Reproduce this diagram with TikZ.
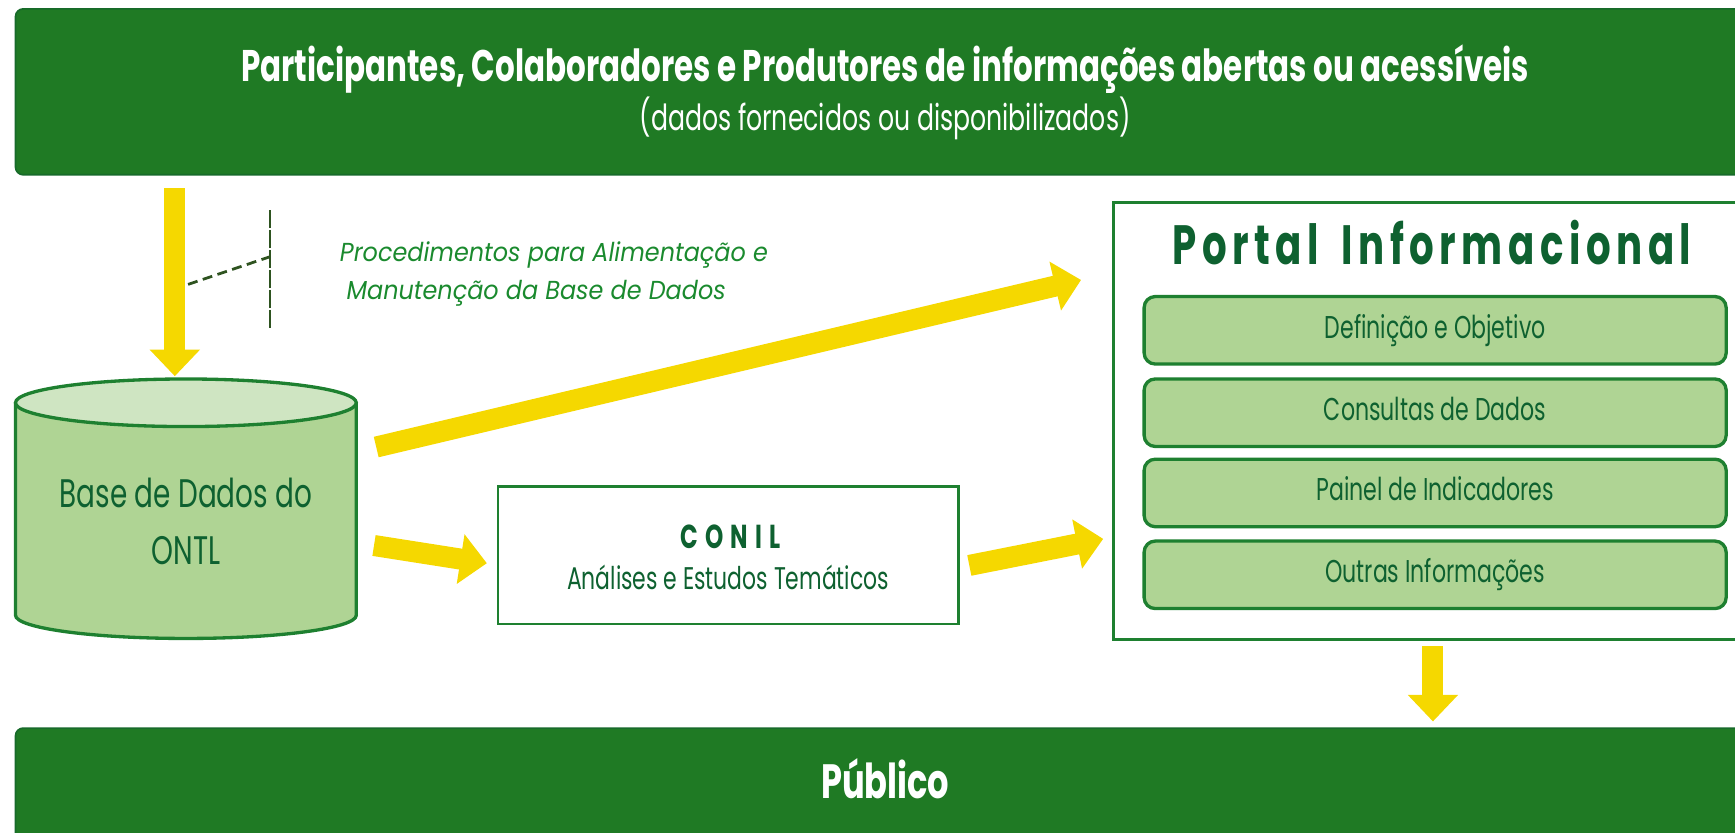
\documentclass[tikz,border=0pt]{standalone}
\usepackage{fontspec}
\setmainfont{Poppins}
\newfontfamily\cf[FakeStretch=0.7]{Poppins}
\newfontfamily\cfi[FakeStretch=0.92]{Poppins}
\usetikzlibrary{arrows.meta}
\definecolor{dkgreen}{HTML}{1F7A24}
\definecolor{barline}{HTML}{176A2A}
\definecolor{txtgreen}{HTML}{0E6130}
\definecolor{itgreen}{HTML}{1A8A2E}
\definecolor{ylw}{HTML}{F5D800}
\definecolor{lgreen}{HTML}{AFD494}
\definecolor{lgreentop}{HTML}{CFE5C2}
\definecolor{bordgreen}{HTML}{1E8030}
\definecolor{olive}{HTML}{2E5320}
\begin{document}
\begin{tikzpicture}[x=1pt,y=-1pt,
  yarrow/.style={draw=ylw, line width=19pt, -{Triangle[width=44pt,length=24pt]}},
  bartext/.style={anchor=base, text=white, inner sep=0pt},
  gtext/.style={anchor=base, text=txtgreen, inner sep=0pt},
  subbox/.style={draw=bordgreen, line width=3pt, fill=lgreen, rounded corners=10pt,
     minimum width=526pt, minimum height=61pt, text=txtgreen, inner sep=0pt,
     font=\cf\fontsize{28.5}{30}\selectfont, text height=20pt, text depth=6pt},
  dashline/.style={draw=olive, line width=2.5pt, dash pattern=on 9pt off 5pt},
  bar/.style={fill=dkgreen, draw=barline, line width=1.5pt, rounded corners=7pt}
]
\useasboundingbox (0,0) rectangle (1568,752);
\clip (0,0) rectangle (1568,752);
% top bar
\filldraw[bar] (14,8) rectangle (1620,158);
\node[bartext, font=\cf\bfseries\fontsize{40}{44}\selectfont] (part) at (800,74)
  {Participantes, Colaboradores e Produtores de informações abertas ou acessíveis};
\node[bartext, font=\cf\fontsize{32.5}{36}\selectfont] (partsub) at (800,118)
  {(dados fornecidos ou disponibilizados)};
% bottom bar
\filldraw[bar] (14,658) rectangle (1620,800);
\node[bartext, font=\cf\bfseries\fontsize{43.5}{46}\selectfont] (pub) at (800,722) {Público};
% cylinder
\coordinate (cylT) at (168,364);
\filldraw[fill=lgreen, draw=bordgreen, line width=3pt]
  (14,364) -- (14,556) arc[start angle=180, end angle=360, x radius=154pt, y radius=21pt]
  -- (322,364);
\filldraw[fill=lgreentop, draw=bordgreen, line width=3pt] (cylT) ellipse[x radius=154pt, y radius=21.5pt];
\node[gtext, font=\cf\fontsize{36}{44}\selectfont] (db) at (168,459) {Base de Dados do};
\node[gtext, font=\cf\fontsize{36}{44}\selectfont] (db2) at (168,510) {ONTL};
% procedures
\coordinate (b1) at (244,190); \coordinate (b2) at (244,297);
\coordinate (d1) at (170,257); \coordinate (d2) at (244,232);
\draw[draw=olive, line width=2pt, dash pattern=on 16pt off 2pt] (b1) -- (b2);
\draw[dashline] (d1) -- (d2);
\node[anchor=base west, inner sep=0pt, text=itgreen, font=\cfi\itshape\fontsize{23.5}{26}\selectfont] (proc1) at (307,236) {Procedimentos para Alimentação e};
\node[anchor=base west, inner sep=0pt, text=itgreen, font=\cfi\itshape\fontsize{23.5}{26}\selectfont] (proc2) at (313,271) {Manutenção da Base de Dados};
% CONIL
\node[draw=bordgreen, line width=2.5pt, fill=white, minimum width=416pt, minimum height=124pt] (conil) at (658,502) {};
\node[gtext, font=\cf\bfseries\fontsize{30}{32}\selectfont\addfontfeatures{LetterSpace=22}] (conilT) at (660,496) {CONIL};
\node[gtext, font=\cf\fontsize{28.3}{30}\selectfont] (conilS) at (658,533) {Análises e Estudos Temáticos};
% Portal
\node[draw=bordgreen, line width=2.5pt, fill=white, minimum width=594pt, minimum height=395pt] (portal) at (1303,380.5) {};
\node[gtext, font=\cf\bfseries\fontsize{50}{54}\selectfont\addfontfeatures{LetterSpace=10}] (portalT) at (1294,239) {Portal\hspace{8pt} Informacional};
\node[subbox] (s1) at (1297,298.5) {Definição e Objetivo};
\node[subbox] (s2) at (1297,373) {Consultas de Dados};
\node[subbox] (s3) at (1297,445.5) {Painel de Indicadores};
\node[subbox] (s4) at (1297,519.5) {Outras Informações};
% arrows
\coordinate (a0s) at (158,170); \coordinate (a0e) at (158,340);
\coordinate (a1s) at (340,404); \coordinate (a1e) at (977,253);
\coordinate (a2s) at (338,493); \coordinate (a2e) at (440,509);
\coordinate (a3s) at (876,511); \coordinate (a3e) at (997,487);
\coordinate (a4s) at (1295,584); \coordinate (a4e) at (1295,652);
\draw[yarrow] (a0s) -- (a0e);
\draw[yarrow] (a1s) -- (a1e);
\draw[yarrow] (a2s) -- (a2e);
\draw[yarrow] (a3s) -- (a3e);
\draw[yarrow] (a4s) -- (a4e);
\end{tikzpicture}
\end{document}
